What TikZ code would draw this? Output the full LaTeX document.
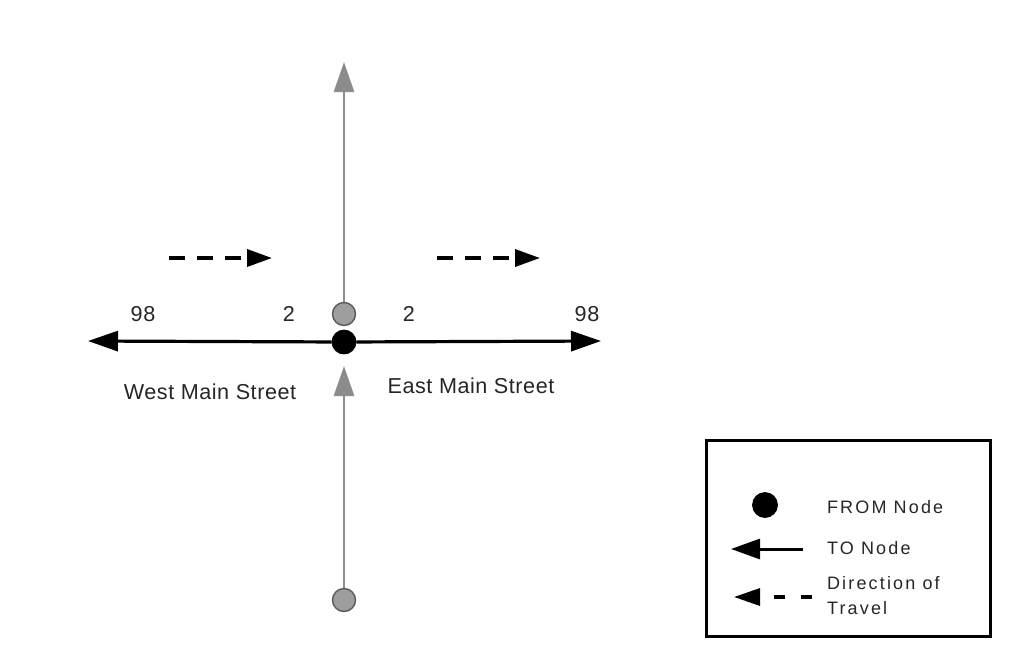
\documentclass[tikz,border=0pt]{standalone}
\usepackage{fontspec}
\setmainfont[LetterSpace=2.5]{Liberation Sans}
\newfontfamily\legendfont[LetterSpace=12]{Liberation Sans}
\usetikzlibrary{arrows.meta}

\begin{document}
\begin{tikzpicture}[x=0.5pt,y=-0.5pt,
    every node/.style={font=\fontsize{10.8}{13}\selectfont,text=black!85},
    fromnode/.style={circle,fill=black,draw=black,minimum size=12pt,inner sep=0pt},
    tonode/.style={circle,fill=black!38,draw=black!65,line width=0.7pt,minimum size=11.5pt,inner sep=0pt},
    road/.style={line width=1.6pt,-{Triangle[length=15pt,width=10pt]}},
    link/.style={draw=black!45,line width=1.4pt,-{Triangle[length=15pt,width=10pt]}},
    travel/.style={line width=1.8pt,dash pattern=on 8pt off 6pt,-{Triangle[length=12.5pt,width=8.5pt]}},
    keytext/.style={anchor=west,font=\legendfont\fontsize{9}{12.5}\selectfont,align=left}]
  \useasboundingbox (0,0) rectangle (1024,671);

  \node[fromnode] (F) at (344,342) {};
  \node[tonode] (N) at (344,314) {};
  \node[tonode] (S) at (344,600) {};
  \coordinate (Ntip) at (344,62);
  \coordinate (Stip) at (344,366);
  \coordinate (Wtip) at (88,341);
  \coordinate (Etip) at (601,341);
  \draw[link] (N) -- (Ntip);
  \draw[link] (S) -- (Stip);
  \draw[road] (F) -- (Wtip);
  \draw[road] (F) -- (Etip);

  \node (W98) at (143,314) {98};
  \node (W2) at (289,314) {2};
  \node (E2) at (409,314) {2};
  \node (E98) at (587,314) {98};
  \node (West) at (210,392) {West Main Street};
  \node (East) at (471,386) {East Main Street};

  \coordinate (WA) at (169,258);
  \coordinate (WB) at (272,258);
  \coordinate (EA) at (437,258);
  \coordinate (EB) at (540,258);
  \draw[travel] (WA) -- (WB);
  \draw[travel] (EA) -- (EB);

  \node[draw=black,line width=1.5pt,minimum width=142pt,minimum height=98pt] (Key) at (848,538) {};
  \node[fromnode,minimum size=12.5pt] (KF) at (765,505) {};
  \node[keytext] (KFtext) at (820,507) {FROM Node};
  \node[keytext] (KTtext) at (820,548) {TO Node};
  \node[keytext] (KDtext) at (820,596) {Direction of\\Travel};
  \coordinate (KTa) at (803,549);
  \coordinate (KTb) at (731,549);
  \coordinate (KDa) at (812,597);
  \coordinate (KDb) at (734,597);
  \draw[line width=1.5pt,-{Triangle[length=14.5pt,width=10pt]}] (KTa) -- (KTb);
  \draw[line width=1.6pt,dash pattern=on 5.5pt off 8pt,-{Triangle[length=13pt,width=8.5pt]}] (KDa) -- (KDb);
\end{tikzpicture}
\end{document}
